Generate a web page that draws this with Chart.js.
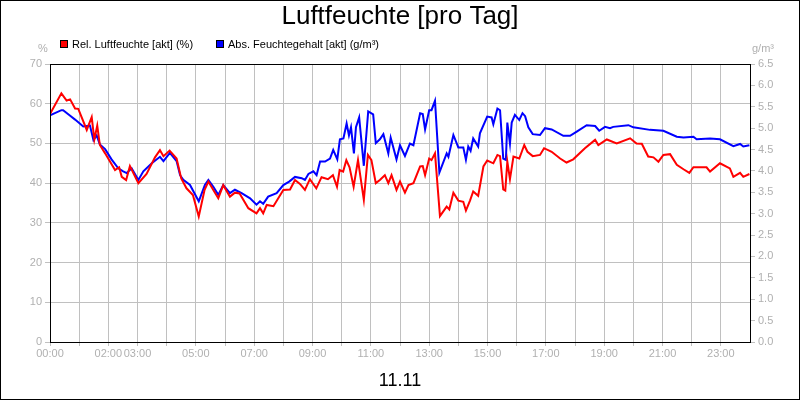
<!DOCTYPE html>
<html><head><meta charset="utf-8">
<script src="https://cdn.jsdelivr.net/npm/chart.js@4"></script>
<style>html,body{margin:0;padding:0;background:#fff}#w{width:800px;height:400px}</style>
</head><body><div id="w"><canvas id="c"></canvas></div>
<script>
const chartTitle = "Luftfeuchte [pro Tag]";
const dateLabel = "11.11";
const seriesNames = ["Rel. Luftfeuchte [akt] (%)", "Abs. Feuchtegehalt [akt] (g/m³)"];
const xTickHours = [0,2,3,5,7,9,11,13,15,17,19,21,23];
const relHours = [0,0.39,0.57,0.69,0.86,0.97,1.26,1.43,1.52,1.62,1.71,1.89,2.23,2.37,2.46,2.61,2.74,3.03,3.31,3.6,3.77,3.89,4.1,4.34,4.5,4.68,4.9,5.1,5.3,5.43,5.6,5.77,5.94,6.17,6.34,6.5,6.8,7.08,7.2,7.31,7.43,7.66,8,8.23,8.4,8.57,8.74,8.91,9.13,9.31,9.53,9.7,9.84,9.93,10.05,10.16,10.27,10.41,10.56,10.76,10.9,11.02,11.17,11.31,11.48,11.6,11.71,11.88,
12.0,12.17,12.29,12.46,12.69,12.78,12.86,13.0,13.08,13.2,13.37,13.6,13.69,13.83,14.0,14.17,14.26,14.4,14.51,14.68,14.86,14.99,15.2,15.34,15.43,15.54,15.61,15.68,15.77,15.89,16.09,16.26,16.37,16.55,16.8,16.94,17.2,17.49,17.71,17.94,18.34,18.69,18.8,19.09,19.43,19.89,20.11,20.29,20.51,20.69,20.86,21.03,21.26,21.49,21.72,21.92,22.06,22.51,22.63,22.97,23.31,23.43,23.66,23.77,23.98];
const relValues = [57.4,62.6,60.8,61.1,58.8,58.7,53.4,56.6,51,54.5,49.6,47.5,43.3,44,41.6,40.8,44.3,40,42.3,46.5,48.3,46.8,48.2,46.2,41.2,38.7,37,31.6,38.3,40.4,38.3,36.2,39.5,36.6,37.6,37.4,33.7,32.4,33.7,32.4,34.5,34.2,38.3,38.4,40.8,39.8,38.3,41,38.7,41.5,41,42,39.1,43.3,42.9,45.8,44,39.1,45.8,35.8,47.1,45.8,40,40.8,42,40,42,38.3,
40.4,37.6,39.5,40,44.2,44.3,42,46.2,45.8,47.5,31.7,34.1,33.4,37.6,35.6,35.3,33.1,35.6,37.9,36.8,44.2,45.7,45,47.1,46.8,38.4,38.1,45.4,41,46.7,46.2,49.6,47.9,46.8,47.1,48.8,47.9,46.2,45.2,46,48.8,50.9,49.6,51,50,51.3,50,49.9,46.7,46.5,45.4,47.1,47.3,44.6,43.5,42.6,44,44,42.9,45,43.7,41.6,42.6,41.6,42.3];
const absHours = [0,0.39,0.45,0.67,0.86,1.14,1.37,1.49,1.6,1.71,1.89,2.11,2.34,2.51,2.63,2.8,3.03,3.2,3.49,3.77,3.89,4.11,4.34,4.46,4.57,4.8,5.1,5.31,5.43,5.6,5.77,5.94,6.17,6.34,6.57,6.86,7.08,7.2,7.31,7.48,7.77,8.0,8.2,8.4,8.63,8.74,8.86,9.03,9.14,9.26,9.43,9.6,9.71,9.85,9.94,10.06,10.17,10.25,10.32,10.42,10.49,10.6,10.76,10.91,11.08,11.17,11.31,11.43,11.6,11.68,11.88,
12.0,12.17,12.34,12.46,12.69,12.78,12.86,13.0,13.08,13.2,13.35,13.6,13.66,13.83,14.0,14.17,14.26,14.34,14.42,14.51,14.68,14.74,14.99,15.14,15.2,15.34,15.43,15.54,15.63,15.68,15.77,15.83,15.94,16.09,16.2,16.29,16.4,16.55,16.8,16.97,17.2,17.6,17.83,18.06,18.4,18.69,18.83,19.03,19.2,19.31,19.83,20.0,20.57,21.03,21.49,21.72,22.06,22.17,22.63,22.97,23.43,23.66,23.77,23.98];
const absValues = [5.30,5.42,5.42,5.30,5.20,5.04,5.06,4.72,4.83,4.62,4.51,4.27,4.06,3.99,3.95,4.06,3.79,3.99,4.18,4.33,4.23,4.42,4.23,3.90,3.79,3.67,3.29,3.67,3.79,3.63,3.44,3.67,3.48,3.56,3.48,3.36,3.21,3.29,3.23,3.40,3.48,3.67,3.75,3.86,3.83,3.79,3.93,3.99,3.90,4.22,4.22,4.29,4.49,4.27,4.74,4.76,5.11,4.83,5.02,4.41,5.02,5.25,4.12,5.39,5.32,4.65,4.74,4.86,4.41,4.78,4.27,
4.6,4.35,4.64,4.6,5.35,5.33,4.97,5.42,5.42,5.64,3.96,4.41,4.33,4.84,4.55,4.55,4.26,4.57,4.47,4.76,4.57,4.88,5.27,5.25,5.09,5.46,5.42,4.29,4.26,5.13,4.64,5.13,5.31,5.19,5.35,5.28,5.02,4.86,4.84,5.0,4.97,4.82,4.82,4.92,5.07,5.05,4.94,5.03,5.0,5.03,5.07,5.02,4.96,4.94,4.8,4.78,4.8,4.74,4.76,4.74,4.58,4.63,4.57,4.6];
const leftTicks = [0,10,20,30,40,50,60,70];
const rightTicks = [0,0.5,1,1.5,2,2.5,3,3.5,4,4.5,5,5.5,6,6.5];

const F = "'Liberation Sans', Arial, sans-serif";
const grey = '#b0b0b0';
const toXY = (xs, ys) => xs.map((x,i)=>({x, y: ys[i]}));
const deco = {
  id:'deco',
  afterDraw(ch){
    const c = ch.ctx, a = ch.chartArea;
    c.save();
    c.strokeStyle='#000'; c.lineWidth=1;
    c.strokeRect(a.left+0.5, a.top+0.5, a.right-a.left, a.bottom-a.top);
    c.strokeRect(0.5,0.5,799,399);
    c.fillStyle='#000'; c.textAlign='center'; c.textBaseline='middle';
    c.font = "26px "+F; c.fillText(chartTitle, 400, 17);
    c.font = "18px "+F; c.fillText(dateLabel, 400, 381);
    c.font = "11px "+F; c.textAlign='left';
    const cols=['#ff0000','#0000ff']; const lx=[60,216];
    seriesNames.forEach((n,i)=>{
      c.fillStyle=cols[i]; c.fillRect(lx[i],40,8,8);
      c.strokeStyle='#000'; c.strokeRect(lx[i]+0.5,40.5,7,7);
      c.fillStyle='#000'; c.fillText(n, lx[i]+12, 45);
    });
    c.fillStyle=grey; c.textAlign='center';
    c.fillText('%', 43, 49);
    c.fillText('g/m³', 763, 49);
    c.restore();
  }
};
new Chart(document.getElementById('c'), {
  type:'line',
  data:{datasets:[
    {label:seriesNames[0], data:toXY(relHours,relValues), borderColor:'#ff0000', borderWidth:2, pointRadius:0, tension:0, yAxisID:'y'},
    {label:seriesNames[1], data:toXY(absHours,absValues), borderColor:'#0000ff', borderWidth:2, pointRadius:0, tension:0, yAxisID:'y2'}
  ]},
  options:{
    responsive:true, maintainAspectRatio:false, animation:false,
    layout:{padding:{top:64,left:0,right:0,bottom:0}},
    plugins:{legend:{display:false}, title:{display:false}, tooltip:{enabled:false}},
    scales:{
      x:{type:'linear', min:0, max:24,
        afterBuildTicks:s=>{s.ticks=[];for(let h=0;h<24;h++)s.ticks.push({value:h});},
        afterFit:s=>{s.height=58;},
        ticks:{autoSkip:false, maxRotation:0, color:grey, font:{family:F,size:11}, padding:1,
          callback:v=> xTickHours.includes(v)? String(v).padStart(2,'0')+':00' : ''},
        grid:{color:'#c0c0c0', tickLength:4, tickColor:'#c0c0c0'}, border:{color:'#000'}},
      y:{position:'left', min:0, max:70,
        afterBuildTicks:s=>{s.ticks=leftTicks.map(v=>({value:v}));},
        afterFit:s=>{s.width=50;},
        ticks:{color:grey, font:{family:F,size:11}, padding:3},
        grid:{color:'#c0c0c0', tickLength:5, tickColor:'#c0c0c0'}, border:{color:'#000'}},
      y2:{position:'right', min:0, max:6.5,
        afterBuildTicks:s=>{s.ticks=rightTicks.map(v=>({value:v}));},
        afterFit:s=>{s.width=50;},
        ticks:{color:grey, font:{family:F,size:11}, padding:3, callback:v=>v.toFixed(1)},
        grid:{drawOnChartArea:false, tickLength:5, tickColor:'#c0c0c0'}, border:{color:'#000'}}
    }
  },
  plugins:[deco]
});
</script></body></html>
